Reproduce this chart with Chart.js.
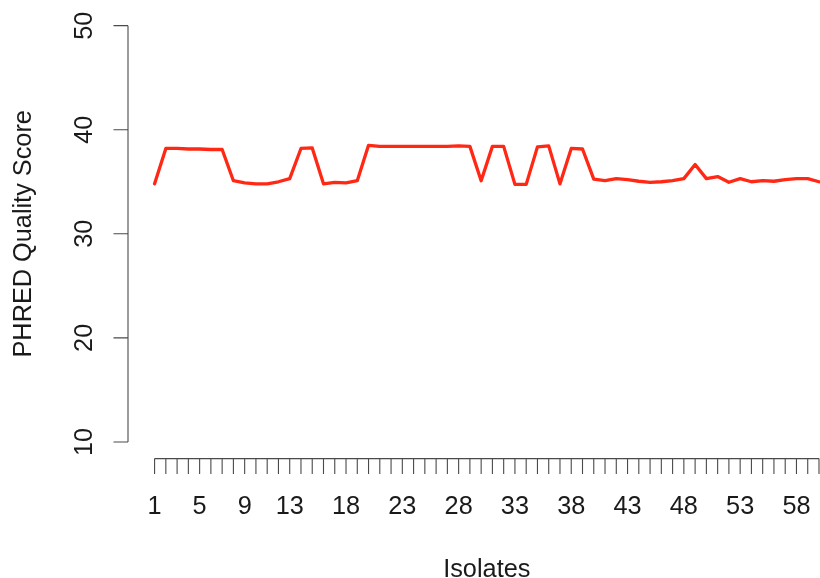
<!DOCTYPE html>
<html>
<head>
<meta charset="utf-8">
<title>PHRED Quality Score by Isolate</title>
<script src="https://cdn.jsdelivr.net/npm/chart.js@4/dist/chart.umd.min.js"></script>
<style>
  html, body { margin: 0; padding: 0; background: #ffffff; }
  #wrap { width: 820px; height: 578px; position: relative; overflow: hidden; }
  canvas { display: block; }
</style>
</head>
<body>
<div id="wrap"><canvas id="chart" width="820" height="578"></canvas></div>
<script>
// Isolate numbers along the x axis
const isolates = [
  1, 2, 3, 4, 5, 6, 7, 8, 9, 10,
  11, 12, 13, 14, 15, 16, 17, 18, 19, 20,
  21, 22, 23, 24, 25, 26, 27, 28, 29, 30,
  31, 32, 33, 34, 35, 36, 37, 38, 39, 40,
  41, 42, 43, 44, 45, 46, 47, 48, 49, 50,
  51, 52, 53, 54, 55, 56, 57, 58, 59, 60
];

// Mean PHRED quality score per isolate
const phredScores = [
  34.8, 38.2, 38.2, 38.15, 38.15, 38.1, 38.1, 35.1, 34.9, 34.8,
  34.8, 35.0, 35.3, 38.2, 38.25, 34.8, 34.95, 34.9, 35.1, 38.5,
  38.4, 38.4, 38.4, 38.4, 38.4, 38.4, 38.4, 38.45, 38.4, 35.1,
  38.4, 38.4, 34.75, 34.75, 38.35, 38.45, 34.8, 38.2, 38.15, 35.25,
  35.1, 35.3, 35.2, 35.05, 34.95, 35.0, 35.1, 35.3, 36.65, 35.3,
  35.5, 34.95, 35.3, 35.0, 35.1, 35.05, 35.2, 35.3, 35.3, 35.0
];

// Labelled positions on the x axis (the rest carry a bare tick)
const xTickLabels = [1, 5, 9, 13, 18, 23, 28, 33, 38, 43, 48, 53, 58];

// y axis ticks
const yTicks = [10, 20, 30, 40, 50];

const xTitle = 'Isolates';
const yTitle = 'PHRED Quality Score';

const FONT = '25.3px "Liberation Sans", Arial, Helvetica, sans-serif';
const AXIS_COLOR = '#4a4a4a';

// Base-graphics style axes: y axis spanning only the tick range,
// x axis spanning the first to last isolate, rotated y labels.
const baseAxes = {
  id: 'baseAxes',
  afterDraw(chart) {
    const ctx = chart.ctx;
    const xs = chart.scales.x;
    const ys = chart.scales.y;
    const area = chart.chartArea;
    ctx.save();
    ctx.strokeStyle = AXIS_COLOR;
    ctx.fillStyle = '#1a1a1a';
    ctx.lineWidth = 1.1;
    ctx.font = FONT;

    // y axis
    const yAxisX = area.left;
    const yTop = ys.getPixelForValue(yTicks[yTicks.length - 1]);
    const yBot = ys.getPixelForValue(yTicks[0]);
    ctx.beginPath();
    ctx.moveTo(yAxisX, yTop);
    ctx.lineTo(yAxisX, yBot);
    yTicks.forEach(v => {
      const py = ys.getPixelForValue(v);
      ctx.moveTo(yAxisX, py);
      ctx.lineTo(yAxisX - 14.5, py);
    });
    ctx.stroke();

    yTicks.forEach(v => {
      const py = ys.getPixelForValue(v);
      ctx.save();
      ctx.translate(92, py);
      ctx.rotate(-Math.PI / 2);
      ctx.textAlign = 'center';
      ctx.textBaseline = 'alphabetic';
      ctx.fillText(String(v), 0, 0);
      ctx.restore();
    });

    // x axis
    const xAxisY = area.bottom;
    const xFirst = xs.getPixelForValue(isolates[0]);
    const xLast = xs.getPixelForValue(isolates[isolates.length - 1]);
    ctx.beginPath();
    ctx.moveTo(xFirst, xAxisY);
    ctx.lineTo(xLast, xAxisY);
    isolates.forEach(v => {
      const px = xs.getPixelForValue(v);
      ctx.moveTo(px, xAxisY);
      ctx.lineTo(px, xAxisY + 15.5);
    });
    ctx.stroke();

    ctx.textAlign = 'center';
    ctx.textBaseline = 'alphabetic';
    xTickLabels.forEach(v => {
      ctx.fillText(String(v), xs.getPixelForValue(v), 514);
    });

    // axis titles, centred on the plot region
    ctx.fillText(xTitle, xs.getPixelForValue(30.5), 577);
    ctx.save();
    ctx.translate(31, ys.getPixelForValue(30));
    ctx.rotate(-Math.PI / 2);
    ctx.fillText(yTitle, 0, 0);
    ctx.restore();

    ctx.restore();
  }
};

new Chart(document.getElementById('chart'), {
  type: 'line',
  data: {
    datasets: [{
      data: isolates.map((x, i) => ({ x: x, y: phredScores[i] })),
      borderColor: '#ff2814',
      borderWidth: 3.3,
      borderJoinStyle: 'round',
      borderCapStyle: 'round',
      pointRadius: 0,
      tension: 0,
      fill: false
    }]
  },
  options: {
    responsive: false,
    animation: false,
    devicePixelRatio: 1,
    layout: { padding: { left: 128, right: 0, top: 9, bottom: 119.4 } },
    plugins: { legend: { display: false }, tooltip: { enabled: false } },
    scales: {
      x: { type: 'linear', display: false, min: -1.36, max: 60.09 },
      y: { type: 'linear', display: false, min: 8.4, max: 51.6 }
    }
  },
  plugins: [baseAxes]
});
</script>
</body>
</html>
